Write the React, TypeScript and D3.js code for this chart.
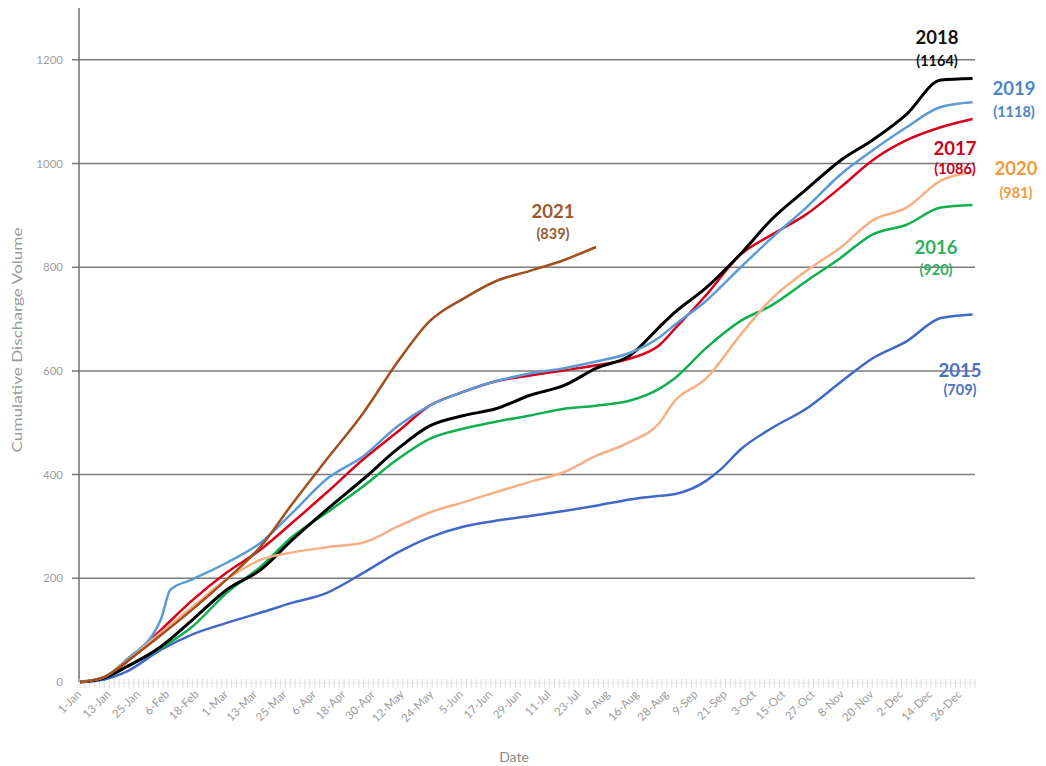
import React from "react";
import * as d3 from "d3";

// Day of year (leap-year calendar, 0 = 1-Jan)
const days2015 = [0, 10, 19, 33, 46, 60, 74, 87, 101, 116, 130, 143, 157, 170, 184, 198, 211, 225, 237, 243, 256, 262, 270, 283, 297, 311, 324, 338, 352, 365];
const vals2015 = [0, 5, 20, 62, 92, 114, 134, 153, 172, 211, 250, 279, 300, 311, 320, 330, 340, 352, 359, 362, 388, 410, 448, 490, 527, 578, 624, 657, 702, 709];

const daysStd = [0, 10, 19, 33, 46, 60, 74, 87, 101, 116, 130, 143, 157, 170, 184, 198, 211, 225, 237, 243, 256, 270, 283, 297, 311, 324, 338, 352, 365];
const vals2016 = [0, 8, 30, 65, 107, 172, 223, 281, 327, 378, 430, 469, 489, 502, 514, 527, 533, 543, 566, 585, 644, 696, 727, 773, 818, 863, 882, 915, 920];
const vals2017 = [0, 8, 38, 100, 158, 211, 256, 308, 366, 430, 483, 533, 560, 580, 591, 601, 611, 624, 650, 680, 746, 824, 863, 902, 954, 1006, 1045, 1070, 1086];
const vals2018 = [0, 8, 29, 68, 120, 178, 217, 275, 333, 392, 450, 494, 514, 527, 553, 572, 605, 630, 685, 712, 760, 825, 893, 950, 1006, 1045, 1095, 1161, 1164];

const days2019 = [0, 10, 19, 33, 37, 46, 60, 74, 87, 101, 116, 130, 143, 157, 170, 184, 198, 211, 225, 237, 243, 256, 270, 283, 297, 311, 324, 338, 352, 365];
const vals2019 = [0, 10, 43, 120, 178, 198, 230, 269, 327, 392, 436, 494, 533, 560, 580, 595, 605, 618, 635, 665, 688, 735, 799, 857, 915, 979, 1025, 1070, 1109, 1118];

const vals2020 = [0, 10, 40, 95, 145, 198, 236, 250, 260, 269, 300, 327, 347, 366, 386, 405, 436, 463, 500, 541, 585, 669, 740, 793, 838, 890, 915, 967, 983];

const days2021 = [0, 10, 19, 33, 46, 60, 74, 87, 101, 116, 130, 143, 157, 170, 184, 198, 211];
const vals2021 = [0, 10, 39, 90, 140, 198, 262, 345, 430, 520, 618, 696, 740, 773, 793, 814, 839];

const seriesNames = ["2015", "2016", "2017", "2018", "2019", "2020", "2021"];
const seriesTotals = ["(709)", "(920)", "(1086)", "(1164)", "(1118)", "(981)", "(839)"];

const xTickLabels = ["1-Jan", "13-Jan", "25-Jan", "6-Feb", "18-Feb", "1-Mar", "13-Mar", "25-Mar", "6-Apr", "18-Apr", "30-Apr", "12-May", "24-May", "5-Jun", "17-Jun", "29-Jun", "11-Jul", "23-Jul", "4-Aug", "16-Aug", "28-Aug", "9-Sep", "21-Sep", "3-Oct", "15-Oct", "27-Oct", "8-Nov", "20-Nov", "2-Dec", "14-Dec", "26-Dec"];
const yTicks = [0, 200, 400, 600, 800, 1000, 1200];

const colors = ["#4068C6", "#10B050", "#D8001C", "#000000", "#5B9BD5", "#F6B084", "#A0501E"];
const labelColors = ["#4A72C4", "#2FB060", "#C8001E", "#111111", "#4A86C8", "#F39A3A", "#9A5A2E"];
const widths = [2.5, 2.5, 2.5, 3, 2.5, 2.5, 2.5];

// [x center, year baseline, total baseline]
const labelPos: [number, number, number][] = [
  [960, 377, 395], [936, 254, 275], [955, 155, 174], [937, 44, 66], [1014, 95, 117], [1016, 175, 198], [553, 218, 239],
];

export default function App() {
  const W = 1046, H = 766;
  const x = d3.scaleLinear().domain([0, 366]).range([80, 975]);
  const y = d3.scaleLinear().domain([0, 1300]).range([682, 8]);

  const data = [
    days2015.map((d, i) => [d, vals2015[i]]),
    daysStd.map((d, i) => [d, vals2016[i]]),
    daysStd.map((d, i) => [d, vals2017[i]]),
    daysStd.map((d, i) => [d, vals2018[i]]),
    days2019.map((d, i) => [d, vals2019[i]]),
    daysStd.map((d, i) => [d, vals2020[i]]),
    days2021.map((d, i) => [d, vals2021[i]]),
  ] as [number, number][][];

  const line = d3.line<[number, number]>().x((p) => x(p[0])).y((p) => y(p[1])).curve(d3.curveMonotoneX);

  const minorTicks = d3.range(0, 367, 2);
  const font = "Lato, 'Open Sans', sans-serif";

  return (
    <svg width={W} height={H} style={{ position: "absolute", left: 0, top: 0, background: "#fff" }} fontFamily={font}>
      {/* gridlines */}
      {yTicks.filter((t) => t > 0).map((t) => (
        <line key={t} x1={72} x2={975} y1={y(t)} y2={y(t)} stroke="#7a7a7a" strokeWidth={1.5} />
      ))}
      {/* y axis */}
      <line x1={79} x2={79} y1={y(1300)} y2={y(0)} stroke="#6f6f6f" strokeWidth={1.5} />
      {yTicks.map((t) => (
        <text key={t} x={63} y={y(t) + 4} textAnchor="end" fontSize={11.5} fill="#a0a0a0">{t}</text>
      ))}
      {/* x axis light tick band */}
      <line x1={79} x2={977} y1={683} y2={683} stroke="#eeeeee" strokeWidth={1} />
      {minorTicks.map((d) => (
        <line key={d} x1={x(d)} x2={x(d)} y1={679} y2={688} stroke="#e2e2e2" strokeWidth={1.2} />
      ))}
      {xTickLabels.map((l, i) => (
        <text key={l} transform={`translate(${x(i * 12) + 2},${695}) rotate(-45)`} textAnchor="end" fontSize={11.5} fill="#9a9a9a">{l}</text>
      ))}
      {/* axis titles */}
      <text transform={`translate(22,${340}) rotate(-90)`} textAnchor="middle" fontSize={13.5} fill="#9a9a9a" textLength={225} lengthAdjust="spacingAndGlyphs">Cumulative Discharge Volume</text>
      <text x={514} y={762} textAnchor="middle" fontSize={14} fill="#8a8a8a">Date</text>
      {/* series */}
      {data.map((s, i) => (
        <path key={seriesNames[i]} d={line(s) || ""} fill="none" stroke={colors[i]} strokeWidth={widths[i]} strokeLinejoin="round" />
      ))}
      {/* labels */}
      {seriesNames.map((n, i) => (
        <g key={n}>
          <text x={labelPos[i][0]} y={labelPos[i][1]} textAnchor="middle" fontSize={18.5} fontWeight="bold" fill={labelColors[i]}>{n}</text>
          <text x={labelPos[i][0]} y={labelPos[i][2]} textAnchor="middle" fontSize={14.5} fontWeight="bold" fill={labelColors[i]}>{seriesTotals[i]}</text>
        </g>
      ))}
    </svg>
  );
}
